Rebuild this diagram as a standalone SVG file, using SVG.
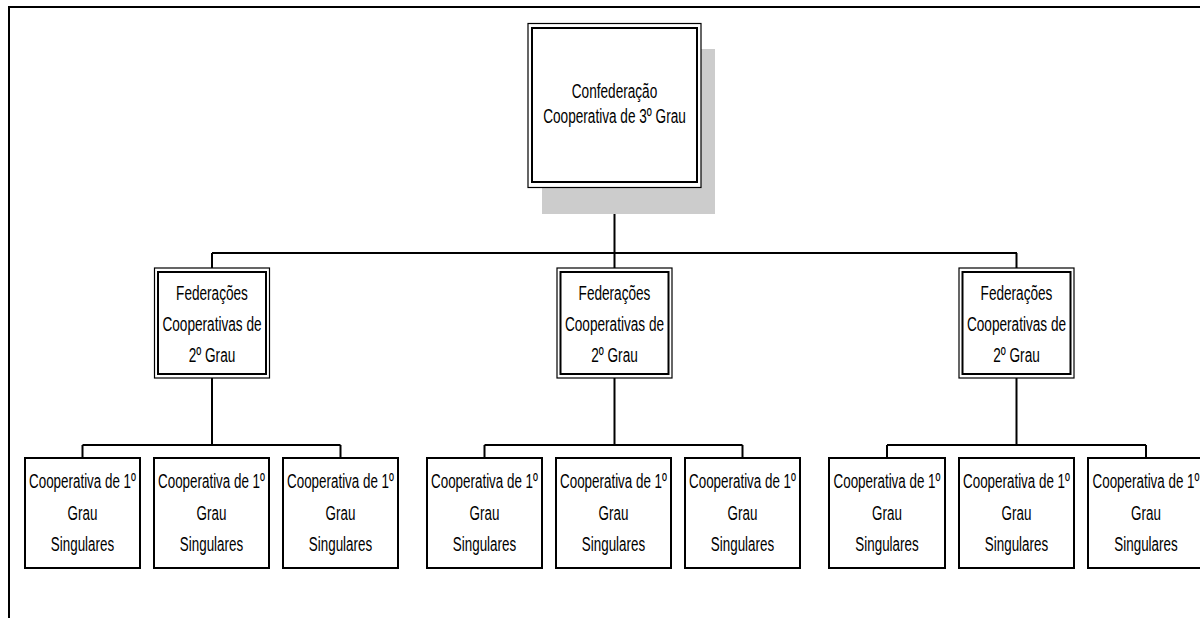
<svg xmlns="http://www.w3.org/2000/svg" width="1200" height="618" viewBox="0 0 1200 618">
<style>
.t{font-family:"Liberation Sans",Arial,sans-serif;font-size:21px;fill:#000;text-anchor:middle}
.ln{stroke:#000;stroke-width:2;fill:none}
.ob{fill:#fff;stroke:#000;stroke-width:1.2}
.ib{fill:none;stroke:#000;stroke-width:2}
.bx{fill:#fff;stroke:#000;stroke-width:2}
</style>
<rect width="1200" height="618" fill="#fff"/>
<g id="frame"><path class="ln" d="M9,618 V7 H1200"/></g>
<g id="connectors">
<path class="ln" d="M614.5,187 V253 M212,253 H1017 M212,253 V268 M614.5,253 V268 M1016.5,253 V268"/>
<path class="ln" d="M212,378 V445 M82.5,445 H340.5 M82.5,445 V458 M340.5,445 V458"/>
<path class="ln" d="M614.5,378 V445 M484.5,445 H742.5 M484.5,445 V458 M742.5,445 V458"/>
<path class="ln" d="M1016.5,378 V445 M887,445 H1146 M887,445 V458 M1146,445 V458"/>
</g>
<g id="confederacao">
<rect x="542" y="49" width="173" height="165" fill="#ccc"/>
<rect class="ob" x="528" y="23.5" width="173" height="164"/>
<rect class="ib" x="532" y="28" width="165" height="154"/>
<text class="t" transform="matrix(0.648,0,0,1,614.5,97.5)">Confederação</text>
<text class="t" transform="matrix(0.648,0,0,1,614.5,122.5)">Cooperativa de 3º Grau</text>
</g>
<g id="fed1">
<rect class="ob" x="154.5" y="268" width="115" height="110"/>
<rect class="ib" x="158" y="272" width="108" height="102"/>
<text class="t" transform="matrix(0.648,0,0,1,212,299.5)">Federações</text>
<text class="t" transform="matrix(0.648,0,0,1,212,331)">Cooperativas de</text>
<text class="t" transform="matrix(0.648,0,0,1,212,362)">2º Grau</text>
</g>
<g id="fed2">
<rect class="ob" x="557" y="268" width="115" height="110"/>
<rect class="ib" x="560.5" y="272" width="108" height="102"/>
<text class="t" transform="matrix(0.648,0,0,1,614.5,299.5)">Federações</text>
<text class="t" transform="matrix(0.648,0,0,1,614.5,331)">Cooperativas de</text>
<text class="t" transform="matrix(0.648,0,0,1,614.5,362)">2º Grau</text>
</g>
<g id="fed3">
<rect class="ob" x="959" y="268" width="115" height="110"/>
<rect class="ib" x="962.5" y="272" width="108" height="102"/>
<text class="t" transform="matrix(0.648,0,0,1,1016.5,299.5)">Federações</text>
<text class="t" transform="matrix(0.648,0,0,1,1016.5,331)">Cooperativas de</text>
<text class="t" transform="matrix(0.648,0,0,1,1016.5,362)">2º Grau</text>
</g>
<g id="coop1"><rect class="bx" x="25" y="458" width="115" height="110"/><text class="t" transform="matrix(0.638,0,0,1,82.5,488)">Cooperativa de 1º</text><text class="t" transform="matrix(0.638,0,0,1,82.5,520)">Grau</text><text class="t" transform="matrix(0.638,0,0,1,82.5,551)">Singulares</text></g>
<g id="coop2"><rect class="bx" x="154" y="458" width="115" height="110"/><text class="t" transform="matrix(0.638,0,0,1,211.5,488)">Cooperativa de 1º</text><text class="t" transform="matrix(0.638,0,0,1,211.5,520)">Grau</text><text class="t" transform="matrix(0.638,0,0,1,211.5,551)">Singulares</text></g>
<g id="coop3"><rect class="bx" x="283" y="458" width="115" height="110"/><text class="t" transform="matrix(0.638,0,0,1,340.5,488)">Cooperativa de 1º</text><text class="t" transform="matrix(0.638,0,0,1,340.5,520)">Grau</text><text class="t" transform="matrix(0.638,0,0,1,340.5,551)">Singulares</text></g>
<g id="coop4"><rect class="bx" x="427" y="458" width="115" height="110"/><text class="t" transform="matrix(0.638,0,0,1,484.5,488)">Cooperativa de 1º</text><text class="t" transform="matrix(0.638,0,0,1,484.5,520)">Grau</text><text class="t" transform="matrix(0.638,0,0,1,484.5,551)">Singulares</text></g>
<g id="coop5"><rect class="bx" x="556" y="458" width="115" height="110"/><text class="t" transform="matrix(0.638,0,0,1,613.5,488)">Cooperativa de 1º</text><text class="t" transform="matrix(0.638,0,0,1,613.5,520)">Grau</text><text class="t" transform="matrix(0.638,0,0,1,613.5,551)">Singulares</text></g>
<g id="coop6"><rect class="bx" x="685" y="458" width="115" height="110"/><text class="t" transform="matrix(0.638,0,0,1,742.5,488)">Cooperativa de 1º</text><text class="t" transform="matrix(0.638,0,0,1,742.5,520)">Grau</text><text class="t" transform="matrix(0.638,0,0,1,742.5,551)">Singulares</text></g>
<g id="coop7"><rect class="bx" x="829" y="458" width="116" height="110"/><text class="t" transform="matrix(0.638,0,0,1,887,488)">Cooperativa de 1º</text><text class="t" transform="matrix(0.638,0,0,1,887,520)">Grau</text><text class="t" transform="matrix(0.638,0,0,1,887,551)">Singulares</text></g>
<g id="coop8"><rect class="bx" x="959" y="458" width="115" height="110"/><text class="t" transform="matrix(0.638,0,0,1,1016.5,488)">Cooperativa de 1º</text><text class="t" transform="matrix(0.638,0,0,1,1016.5,520)">Grau</text><text class="t" transform="matrix(0.638,0,0,1,1016.5,551)">Singulares</text></g>
<g id="coop9"><rect class="bx" x="1088" y="458" width="116" height="110"/><text class="t" transform="matrix(0.638,0,0,1,1146,488)">Cooperativa de 1º</text><text class="t" transform="matrix(0.638,0,0,1,1146,520)">Grau</text><text class="t" transform="matrix(0.638,0,0,1,1146,551)">Singulares</text></g>
</svg>
